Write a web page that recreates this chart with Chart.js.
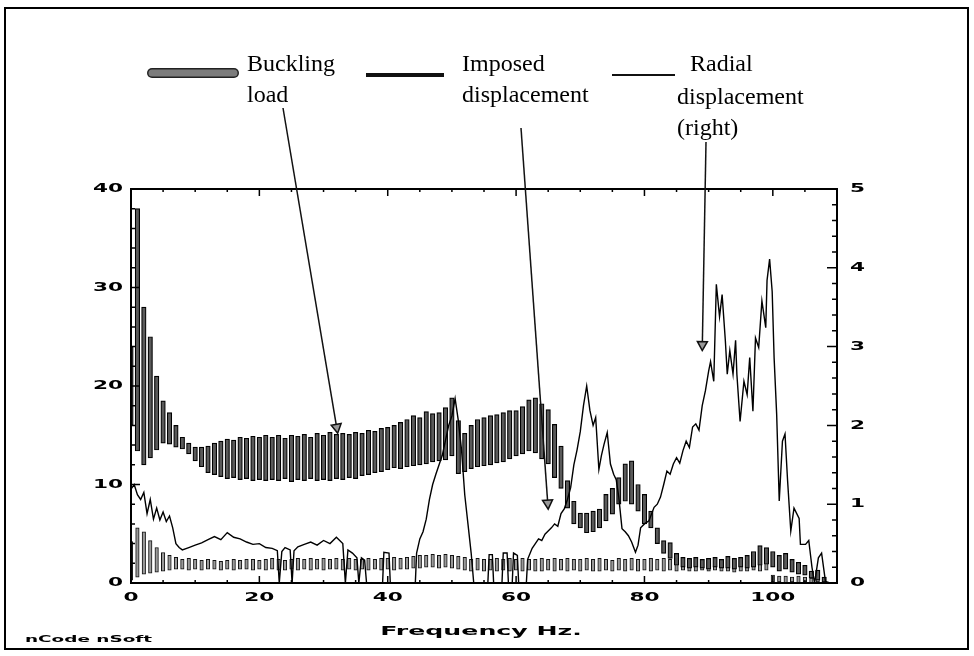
<!DOCTYPE html>
<html>
<head>
<meta charset="utf-8">
<script src="https://cdn.jsdelivr.net/npm/chart.js@4.4.1/dist/chart.umd.min.js"></script>
<style>
  html, body { margin: 0; padding: 0; background: #fff; }
  #wrap { width: 974px; height: 656px; }
</style>
</head>
<body>
<div id="wrap"><canvas id="chart" width="974" height="656"></canvas></div>
<script>
// bar positions, Hz
const freq = [
  0, 1, 2, 3, 4, 5, 6, 7, 8, 9, 10, 11, 12, 13, 14, 15, 16, 17, 18, 19,
  20, 21, 22, 23, 24, 25, 26, 27, 28, 29, 30, 31, 32, 33, 34, 35, 36, 37, 38, 39,
  40, 41, 42, 43, 44, 45, 46, 47, 48, 49, 50, 51, 52, 53, 54, 55, 56, 57, 58, 59,
  60, 61, 62, 63, 64, 65, 66, 67, 68, 69, 70, 71, 72, 73, 74, 75, 76, 77, 78, 79,
  80, 81, 82, 83, 84, 85, 86, 87, 88, 89, 90, 91, 92, 93, 94, 95, 96, 97, 98, 99,
  100, 101, 102, 103, 104, 105, 106, 107, 108
];

// buckling load band (left axis), low / high of each oscillation
const buckLo = [
  16, 13.4, 12.0, 12.7, 13.5, 14.2, 14.1, 13.8, 13.6, 13.1,
  12.4, 11.8, 11.2, 11.0, 10.8, 10.6, 10.7, 10.5, 10.6, 10.4,
  10.5, 10.4, 10.5, 10.4, 10.6, 10.3, 10.5, 10.4, 10.6, 10.4,
  10.5, 10.4, 10.6, 10.5, 10.7, 10.6, 10.9, 11.0, 11.2, 11.3,
  11.5, 11.7, 11.6, 11.8, 11.9, 12.0, 12.1, 12.3, 12.4, 12.5,
  12.9, 11.1, 11.3, 11.6, 11.8, 11.9, 12.0, 12.2, 12.3, 12.6,
  12.9, 13.1, 13.4, 13.2, 12.6, 12.1, 10.7, 9.6, 7.6, 6.0,
  5.6, 5.1, 5.2, 5.6, 6.3, 7.0, 8.0, 8.3, 8.0, 7.3,
  6.0, 5.6, 4.0, 3.0, 2.5, 1.8, 1.6, 1.5, 1.6, 1.5,
  1.4, 1.6, 1.5, 1.5, 1.4, 1.6, 1.5, 1.6, 1.8, 1.9,
  1.6, 1.2, 1.4, 1.1, 0.9, 0.8, 0.5, 0.3, 0.1
];
const buckHi = [
  24, 38, 28, 25, 21, 18.5, 17.3, 16.0, 14.8, 14.2,
  13.8, 13.8, 13.9, 14.2, 14.4, 14.6, 14.5, 14.8, 14.7, 14.9,
  14.8, 15.0, 14.8, 15.0, 14.7, 15.0, 14.9, 15.1, 14.8, 15.2,
  15.0, 15.3, 15.1, 15.2, 15.1, 15.3, 15.2, 15.5, 15.4, 15.7,
  15.8, 16.0, 16.3, 16.6, 17.0, 16.8, 17.4, 17.2, 17.3, 17.8,
  18.8, 16.5, 15.2, 16.0, 16.6, 16.8, 17.0, 17.1, 17.3, 17.5,
  17.5, 17.9, 18.6, 18.8, 18.2, 17.6, 16.1, 13.9, 10.4, 8.3,
  7.1, 7.1, 7.3, 7.5, 9.0, 9.6, 10.7, 12.1, 12.4, 10.0,
  9.0, 7.3, 5.6, 4.3, 4.1, 3.0, 2.6, 2.5, 2.6, 2.4,
  2.5, 2.6, 2.4, 2.7, 2.5, 2.6, 2.8, 3.2, 3.8, 3.6,
  3.2, 2.8, 3.0, 2.4, 2.1, 1.8, 1.2, 1.3, 0.6
];

// imposed displacement band (left axis)
const impLo = [
  0.3, 0.6, 0.9, 1.0, 1.1, 1.2, 1.3, 1.4, 1.4, 1.3,
  1.4, 1.3, 1.4, 1.4, 1.3, 1.4, 1.3, 1.4, 1.4, 1.3,
  1.4, 1.3, 1.4, 1.3, 1.3, 1.4, 1.3, 1.4, 1.3, 1.4,
  1.3, 1.4, 1.4, 1.3, 1.4, 1.3, 1.4, 1.3, 1.4, 1.3,
  1.4, 1.3, 1.4, 1.4, 1.5, 1.5, 1.6, 1.6, 1.5, 1.6,
  1.5, 1.4, 1.3, 1.2, 1.3, 1.2, 1.3, 1.2, 1.3, 1.2,
  1.3, 1.2, 1.3, 1.2, 1.2, 1.3, 1.2, 1.3, 1.2, 1.3,
  1.2, 1.3, 1.2, 1.2, 1.3, 1.2, 1.3, 1.2, 1.3, 1.2,
  1.3, 1.2, 1.3, 1.2, 1.3, 1.2, 1.3, 1.2, 1.2, 1.3,
  1.2, 1.3, 1.2, 1.2, 1.1, 1.2, 1.2, 1.3, 1.2, 1.3,
  0.1, 0.1, 0.0, 0.1, 0.0, 0.1, 0.0, 0.1, 0.0
];
const impHi = [
  4.2, 5.6, 5.2, 4.3, 3.6, 3.1, 2.8, 2.6, 2.4, 2.5,
  2.4, 2.3, 2.4, 2.3, 2.2, 2.3, 2.4, 2.3, 2.4, 2.4,
  2.3, 2.4, 2.5, 2.4, 2.3, 2.4, 2.5, 2.4, 2.5, 2.4,
  2.5, 2.4, 2.5, 2.4, 2.5, 2.4, 2.4, 2.5, 2.4, 2.5,
  2.5, 2.6, 2.5, 2.6, 2.7, 2.8, 2.8, 2.9, 2.8, 2.9,
  2.8, 2.7, 2.6, 2.4, 2.5, 2.4, 2.4, 2.5, 2.4, 2.5,
  2.4, 2.5, 2.4, 2.4, 2.5, 2.4, 2.5, 2.4, 2.5, 2.4,
  2.4, 2.5, 2.4, 2.5, 2.4, 2.3, 2.5, 2.4, 2.5, 2.4,
  2.4, 2.5, 2.4, 2.5, 2.4, 2.5, 2.5, 2.4, 2.5, 2.4,
  2.5, 2.4, 2.4, 2.3, 2.5, 2.6, 2.7, 2.8, 2.9, 3.0,
  0.8, 0.7, 0.7, 0.6, 0.7, 0.6, 0.5, 0.6, 0.4
];

// radial displacement (right axis)
const radX = [
  0, 0.5, 1, 1.5, 2, 2.5, 3, 3.5, 4, 4.5, 5, 5.5, 6, 6.5, 7,
  7.5, 8, 9, 10, 11, 12, 13, 14, 15, 16, 17, 18, 19, 20, 21, 22,
  22.8, 23.1, 23.5, 24, 24.8, 25.1, 25.4, 26, 27, 28, 29, 30, 31, 32,
  33, 33.4, 33.8, 34.5, 35.2, 35.5, 35.9, 36.4, 36.7, 39.2, 39.4, 40.2, 40.4, 44.3,
  44.5, 45, 45.5, 46, 46.5, 47, 47.5, 48, 48.5, 49, 49.5, 50, 50.5, 51, 51.5, 52,
  52.5, 53, 53.4, 55.6, 55.8, 56.3, 56.5, 57.8, 58, 58.6, 58.8, 59.4, 59.6, 60.2, 60.4, 61.6,
  61.8, 62.5, 63, 63.5, 64, 64.5, 65, 65.5, 66, 66.5, 67, 67.5, 68, 68.5, 69, 69.5,
  70, 70.5, 71, 71.5, 72, 72.4, 72.9, 73.3, 73.7, 74.2, 74.7, 75.2, 75.6, 76, 76.5, 77,
  77.5, 78, 78.6, 79, 79.4, 80, 80.7, 81.5, 82, 82.5, 83, 83.5, 84, 84.5, 85, 85.5,
  86, 86.5, 87, 87.5, 88, 88.5, 89, 89.5, 90, 90.3, 90.8, 91.2, 91.7, 92.1, 92.6, 92.9,
  93.3, 93.8, 94.2, 94.4, 94.9, 95.5, 96, 96.4, 96.9, 97.3, 97.8, 98.3, 98.9, 99.1, 99.5, 99.9,
  100.2, 100.6, 101, 101.5, 101.9, 102.3, 102.8, 103.3, 104.1, 104.3, 105.1, 105.6, 106.1, 106.5, 107.1, 107.6,
  108.2, 108.9
];
const radY = [
  1.19, 1.25, 1.12, 1.06, 1.15, 0.88, 1.06, 0.81, 0.95, 0.80, 0.90, 0.78, 0.85, 0.70, 0.50,
  0.45, 0.42, 0.45, 0.48, 0.51, 0.55, 0.59, 0.55, 0.64, 0.58, 0.56, 0.52, 0.49, 0.50, 0.45, 0.44,
  0.41, 0, 0.40, 0.45, 0.42, 0, 0.41, 0.46, 0.49, 0.52, 0.48, 0.54, 0.50, 0.58,
  0.50, 0, 0.42, 0.38, 0.32, 0, 0.32, 0.29, 0, 0, 0.39, 0.38, 0, 0,
  0.38, 0.56, 0.65, 0.81, 1.06, 1.25, 1.38, 1.50, 1.62, 1.81, 2.00, 2.12, 2.34, 2.06, 1.69, 1.12,
  0.75, 0.38, 0, 0, 0.36, 0.36, 0, 0, 0.38, 0.38, 0, 0, 0.38, 0.35, 0, 0,
  0.30, 0.44, 0.50, 0.56, 0.54, 0.62, 0.66, 0.70, 0.75, 0.72, 0.88, 0.94, 1.06, 1.21, 1.50, 1.69,
  1.92, 2.25, 2.50, 2.19, 2.00, 2.10, 1.44, 1.62, 1.76, 1.91, 1.51, 1.38, 1.31, 1.09, 0.69, 0.65,
  0.60, 0.52, 0.39, 0.48, 0.70, 0.75, 0.79, 0.96, 1.00, 1.09, 1.25, 1.42, 1.38, 1.51, 1.59, 1.52,
  1.68, 1.80, 1.72, 1.98, 2.02, 1.94, 2.25, 2.44, 2.69, 2.81, 2.56, 3.79, 3.38, 3.66, 3.08, 2.65,
  2.95, 2.65, 3.08, 2.65, 2.05, 2.56, 2.39, 2.86, 2.18, 3.11, 2.99, 3.58, 3.24, 3.84, 4.11, 3.70,
  2.86, 2.14, 1.04, 1.80, 1.89, 1.30, 0.66, 0.95, 0.82, 0.49, 0.49, 0.54, 0.20, 0, 0.32, 0.38,
  0.02, 0
];

const xLabels = [0, 20, 40, 60, 80, 100];

// wide plotter-style text
function wideText(c, txt, x, y, align, size, sx) {
  c.save();
  c.font = "bold " + size + "px 'DejaVu Sans'";
  c.textBaseline = "middle";
  c.textAlign = "left";
  const w = c.measureText(txt).width * sx;
  let x0 = x - w / 2;
  if (align === "left") x0 = x;
  if (align === "right") x0 = x - w;
  c.translate(x0, y);
  c.scale(sx, 1);
  c.fillText(txt, 0, 0);
  c.restore();
}

function arrow(c, x0, y0, x1, y1) {
  const a = Math.atan2(y1 - y0, x1 - x0);
  c.beginPath();
  c.moveTo(x0, y0);
  c.lineTo(x1 - 7 * Math.cos(a), y1 - 7 * Math.sin(a));
  c.stroke();
  c.save();
  c.translate(x1, y1);
  c.rotate(a);
  c.beginPath();
  c.moveTo(0, 0);
  c.lineTo(-9, -5);
  c.lineTo(-9, 5);
  c.closePath();
  c.fillStyle = "#999";
  c.fill();
  c.stroke();
  c.restore();
}

const decor = {
  id: "decor",
  afterDraw(chart) {
    const c = chart.ctx;
    const a = chart.chartArea;
    const sx = chart.scales.x, sy = chart.scales.y, sy1 = chart.scales.y1;
    c.save();
    c.strokeStyle = "#000";
    c.fillStyle = "#000";

    // plot box
    c.lineWidth = 2;
    c.strokeRect(a.left, a.top, a.right - a.left, a.bottom - a.top);

    // inward ticks
    c.lineWidth = 1.5;
    c.beginPath();
    sx.ticks.forEach(t => {
      const p = sx.getPixelForValue(t.value);
      const len = t.value % 20 === 0 ? 7 : 3;
      c.moveTo(p, a.bottom); c.lineTo(p, a.bottom - len);
      c.moveTo(p, a.top); c.lineTo(p, a.top + len);
    });
    sy.ticks.forEach(t => {
      const p = sy.getPixelForValue(t.value);
      const len = t.value % 10 === 0 ? 9 : 4;
      c.moveTo(a.left, p); c.lineTo(a.left + len, p);
    });
    sy1.ticks.forEach(t => {
      const p = sy1.getPixelForValue(t.value);
      const major = Math.abs(t.value - Math.round(t.value)) < 1e-6;
      const len = major ? 10 : 5;
      c.moveTo(a.right, p); c.lineTo(a.right - len, p);
    });
    c.stroke();

    // tick labels
    xLabels.forEach(v => wideText(c, String(v), sx.getPixelForValue(v), a.bottom + 15, "center", 12, 1.8));
    sy.ticks.forEach(t => {
      if (t.value % 10 === 0) wideText(c, String(t.value), a.left - 8, sy.getPixelForValue(t.value), "right", 12, 1.8);
    });
    sy1.ticks.forEach(t => {
      if (Math.abs(t.value - Math.round(t.value)) < 1e-6)
        wideText(c, String(Math.round(t.value)), a.right + 13, sy1.getPixelForValue(t.value), "left", 12, 1.8);
    });

    // axis title and footer
    wideText(c, "Frequency Hz.", 481, 632, "center", 12, 2.1);
    wideText(c, "nCode nSoft", 25, 640, "left", 8, 2.3);

    // legend samples
    c.lineCap = "round";
    c.strokeStyle = "#222";
    c.lineWidth = 10;
    c.beginPath(); c.moveTo(152, 73); c.lineTo(234, 73); c.stroke();
    c.strokeStyle = "#7c7c7c";
    c.lineWidth = 7;
    c.beginPath(); c.moveTo(152, 73); c.lineTo(234, 73); c.stroke();
    c.lineCap = "butt";
    c.strokeStyle = "#111";
    c.lineWidth = 4;
    c.beginPath(); c.moveTo(366, 75); c.lineTo(444, 75); c.stroke();
    c.lineWidth = 2;
    c.beginPath(); c.moveTo(612, 75); c.lineTo(675, 75); c.stroke();

    c.font = "24px 'Liberation Serif'";
    c.textBaseline = "alphabetic";
    c.textAlign = "left";
    c.fillText("Buckling", 247, 71);
    c.fillText("load", 247, 102);
    c.fillText("Imposed", 462, 71);
    c.fillText("displacement", 462, 102);
    c.fillText("Radial", 690, 71);
    c.fillText("displacement", 677, 104);
    c.fillText("(right)", 677, 135);

    // pointer arrows to the curves
    c.strokeStyle = "#111";
    c.lineWidth = 1.5;
    arrow(c, 283, 108, sx.getPixelForValue(32.2), sy.getPixelForValue(15.2));
    arrow(c, 521, 128, sx.getPixelForValue(65.0), sy.getPixelForValue(7.5));
    arrow(c, 706, 142, sx.getPixelForValue(89.0), sy1.getPixelForValue(2.95));

    // page frame
    c.strokeStyle = "#000";
    c.lineWidth = 2;
    c.strokeRect(5, 8, 963, 641);
    c.restore();
  }
};

document.addEventListener("DOMContentLoaded", function() {
  const ctx = document.getElementById("chart");

  new Chart(ctx, {
    type: "bar",
    data: {
      datasets: [
        {
          type: "line",
          label: "Radial displacement (right)",
          data: radX.map((x, i) => ({ x: x, y: radY[i] })),
          yAxisID: "y1",
          borderColor: "#000",
          borderWidth: 1.4,
          pointRadius: 0,
          tension: 0,
          order: 0,
        },
        {
          label: "Buckling load",
          data: freq.map((x, i) => ({ x: x, y: [buckLo[i], buckHi[i]] })),
          yAxisID: "y",
          backgroundColor: "#5a5a5a",
          borderColor: "#000",
          borderWidth: 1.2,
          borderSkipped: false,
          barThickness: 4.5,
          grouped: false,
          order: 1,
        },
        {
          label: "Imposed displacement",
          data: freq.map((x, i) => ({ x: x, y: [impLo[i], impHi[i]] })),
          yAxisID: "y",
          backgroundColor: "#9a9a9a",
          borderColor: "#111",
          borderWidth: 1,
          borderSkipped: false,
          barThickness: 3.5,
          grouped: false,
          order: 2,
        },
      ],
    },
    options: {
      responsive: false,
      animation: false,
      devicePixelRatio: 1,
      layout: {
        padding: { left: 131, top: 189, right: 137, bottom: 73 },
      },
      plugins: {
        legend: { display: false },
        tooltip: { enabled: false },
      },
      scales: {
        x: {
          type: "linear",
          min: 0,
          max: 110,
          offset: false,
          ticks: { display: false, stepSize: 5 },
          grid: { display: false, drawTicks: false },
          border: { display: false },
        },
        y: {
          position: "left",
          min: 0,
          max: 40,
          ticks: { display: false, stepSize: 2 },
          grid: { display: false, drawTicks: false },
          border: { display: false },
        },
        y1: {
          position: "right",
          min: 0,
          max: 5,
          ticks: { display: false, stepSize: 0.2 },
          grid: { display: false, drawTicks: false },
          border: { display: false },
        },
      },
    },
    plugins: [decor],
  });
});
</script>
</body>
</html>
